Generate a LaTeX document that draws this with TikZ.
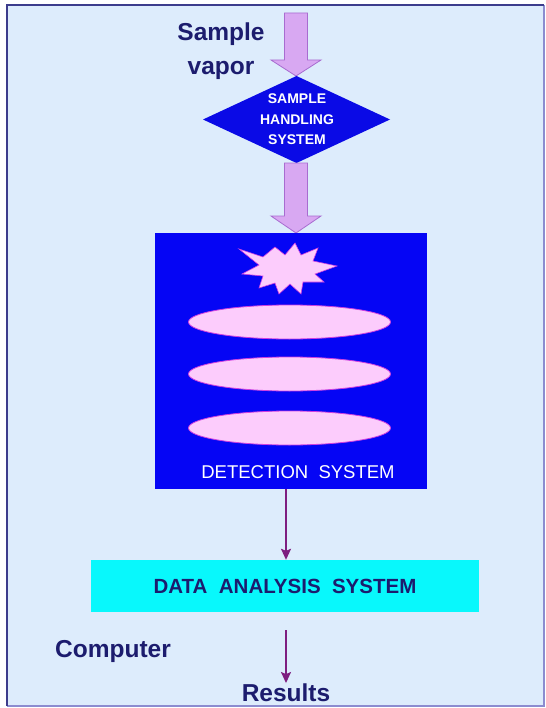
\documentclass[tikz,border=0pt]{standalone}
\usepackage{fontspec}
\setmainfont{Liberation Sans}
\usetikzlibrary{arrows.meta}

\definecolor{bgblue}{HTML}{DDECFC}
\definecolor{framedark}{HTML}{3C3C8C}
\definecolor{framelight}{HTML}{8C8CD0}
\definecolor{handleblue}{HTML}{0A0AE6}
\definecolor{detblue}{HTML}{0505F5}
\definecolor{lavender}{HTML}{D8A8F2}
\definecolor{lavedge}{HTML}{A86CD0}
\definecolor{pinkfill}{HTML}{FCCCFC}
\definecolor{pinkedge}{HTML}{D040E0}
\definecolor{connpurple}{HTML}{7E1E80}
\definecolor{dascyan}{HTML}{08F8FC}
\definecolor{navy}{HTML}{1C1C6E}

\tikzset{
  bigarrow/.style={fill=lavender, draw=lavedge, line width=0.8bp, line join=miter},
  disc/.style={fill=pinkfill, draw=pinkedge, line width=0.8bp},
  thinarrow/.style={draw=connpurple, line width=1.6bp,
    -{Stealth[length=11bp,width=10bp,inset=2bp]}},
  boldlabel/.style={text=navy, font=\bfseries\fontsize{24.5bp}{34bp}\selectfont, inner sep=0pt},
}

\begin{document}
\begin{tikzpicture}[x=1bp,y=-1bp]
\useasboundingbox (0,0) rectangle (546,708);

% page background and frame
\fill[bgblue] (7,5) rectangle (544,706);
\draw[framelight, line width=1.5bp] (544,5) -- (544,706) -- (7,706);
\draw[framedark, line width=2bp] (7,706) -- (7,5) -- (544,5);

% input label
\node[boldlabel, align=center] (vapor) at (221,51) {Sample\\vapor};

% block arrow into the sample handling stage
\draw[bigarrow] (284.5,13) -- (307.5,13) -- (307.5,60) -- (321,60)
  -- (296,76) -- (271,60) -- (284.5,60) -- cycle;

% sample handling diamond
\coordinate (dtop) at (296.5,76);
\coordinate (dbot) at (296.5,163);
\fill[handleblue] (203,119.5) -- (dtop) -- (390,119.5) -- (dbot) -- cycle;
\node[text=white, align=center, inner sep=0pt,
  font=\bfseries\fontsize{14bp}{20.5bp}\selectfont] (handling) at (297,119.5)
  {SAMPLE\\HANDLING\\SYSTEM};

% block arrow into the detector
\draw[bigarrow] (284.5,163) -- (307.5,163) -- (307.5,216) -- (321,216)
  -- (296,233) -- (271,216) -- (284.5,216) -- cycle;

% detection system
\node[fill=detblue, minimum width=272bp, minimum height=256bp, inner sep=0pt]
  (det) at (291,361) {};

% ionisation burst
\begin{scope}[shift={(287,268)}]
\fill[pinkfill, draw=pinkedge, line width=0.6bp, line join=miter]
  (-48,-19) -- (-24,-11) -- (-12,-21) -- (-2,-13) -- (8,-25) -- (14,-13)
  -- (31,-20) -- (26,-7) -- (50,-2) -- (28,6) -- (37,14) -- (16,14)
  -- (14,26) -- (3,16) -- (-8,26) -- (-12,15) -- (-28,20) -- (-24,8)
  -- (-45,6) -- (-28,-3) -- cycle;
\end{scope}

% separation plates
\draw[disc] (289.5,322) ellipse [x radius=101, y radius=17];
\draw[disc] (289.5,374) ellipse [x radius=101, y radius=17];
\draw[disc] (289.5,428) ellipse [x radius=101, y radius=17];

\node[text=white, inner sep=0pt, font=\fontsize{18.5bp}{22bp}\selectfont]
  (detlabel) at (298,472) {DETECTION\ \ SYSTEM};

% data analysis
\node[fill=dascyan, minimum width=388bp, minimum height=52bp, inner sep=0pt,
  text=navy, font=\bfseries\fontsize{20.5bp}{24bp}\selectfont]
  (das) at (285,586) {DATA\ \ ANALYSIS\ \ SYSTEM};

\draw[thinarrow] (det.south -| 286,0) -- (das.north -| 286,0);

% output
\node[boldlabel, anchor=base west] (computer) at (55,657) {Computer};
\node[boldlabel, anchor=base] (results) at (286,701) {Results};

\coordinate (dasout) at (286,630);
\draw[thinarrow] (dasout) -- (results.north);
\end{tikzpicture}
\end{document}
